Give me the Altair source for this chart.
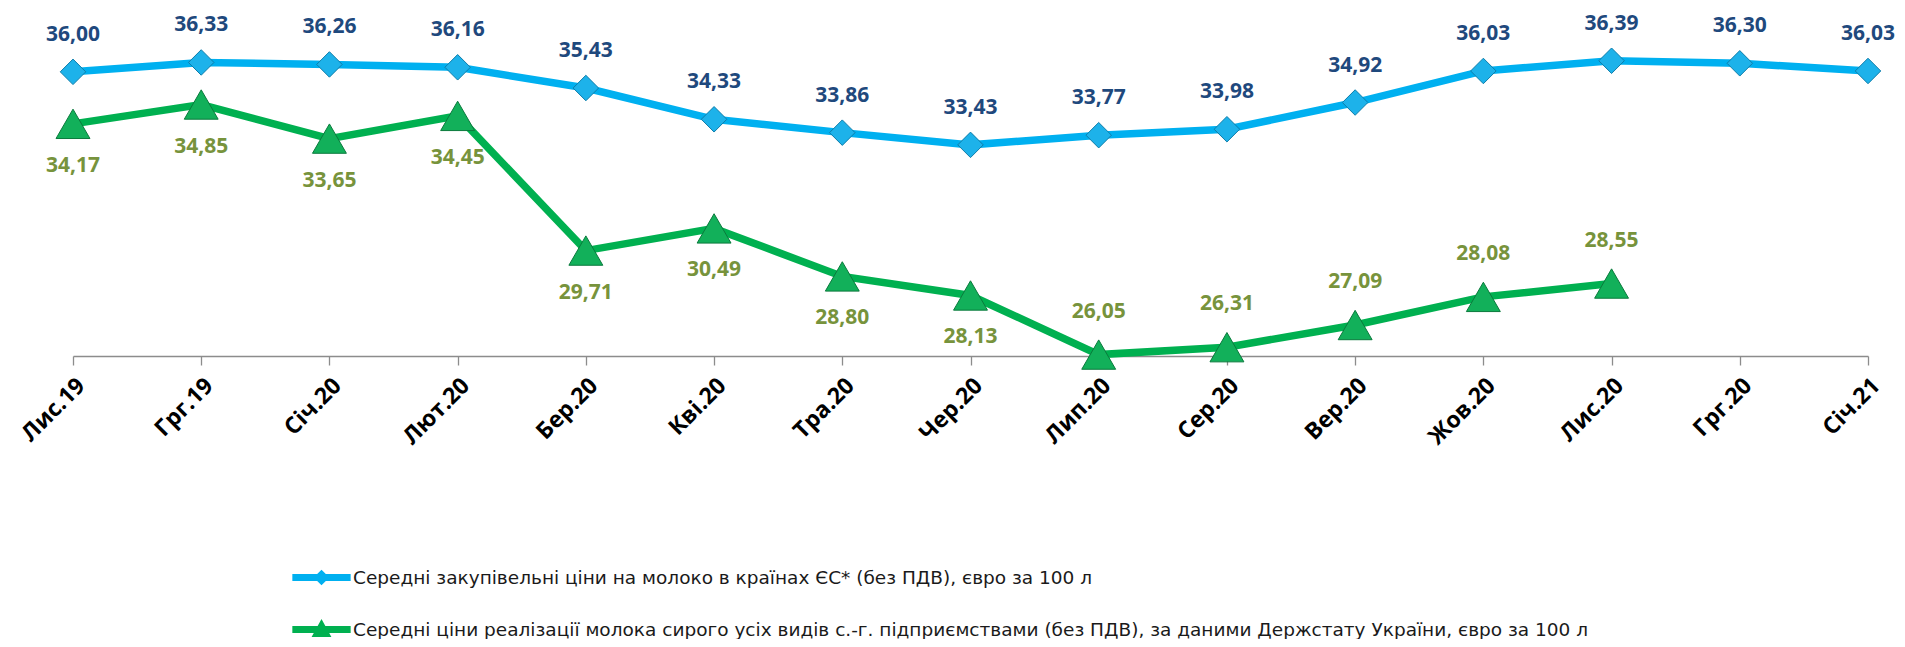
import altair as alt
import pandas as pd

months = ["Лис.19", "Грг.19", "Січ.20", "Лют.20", "Бер.20", "Кві.20", "Тра.20",
          "Чер.20", "Лип.20", "Сер.20", "Вер.20", "Жов.20", "Лис.20", "Грг.20", "Січ.21"]
eu_prices = [36.00, 36.33, 36.26, 36.16, 35.43, 34.33, 33.86, 33.43, 33.77, 33.98,
             34.92, 36.03, 36.39, 36.30, 36.03]
ua_prices = [34.17, 34.85, 33.65, 34.45, 29.71, 30.49, 28.80, 28.13, 26.05, 26.31,
             27.09, 28.08, 28.55, None, None]
ua_label_side = ["below", "below", "below", "below", "below", "below", "below",
                 "below", "above", "above", "above", "above", "above", None, None]

s_eu = "Середні закупівельні ціни на молоко в країнах ЄС* (без ПДВ), євро за 100 л"
s_ua = ("Середні ціни реалізації молока сирого усіх видів с.-г. підприємствами (без ПДВ), "
        "за даними Держстату України, євро за 100 л")
series = [s_eu, s_ua]
colors = ["#00B0F0", "#00B050"]

rows = []
for i, m in enumerate(months):
    rows.append({"month": m, "series": s_eu, "value": eu_prices[i], "side": "above"})
    if ua_prices[i] is not None:
        rows.append({"month": m, "series": s_ua, "value": ua_prices[i],
                     "side": ua_label_side[i]})
df = pd.DataFrame(rows)

FONT = "Open Sans"

x = alt.X("month:N", sort=months, title=None,
          scale=alt.Scale(type="point", padding=0),
          axis=alt.Axis(labelAngle=-45, labelFontSize=23, labelFontWeight="bold",
                        labelColor="#000000", labelFont=FONT, labelPadding=9,
                        domainColor="#8C8C8C", tickColor="#8C8C8C", tickSize=9,
                        domainWidth=1.3, tickWidth=1.3, grid=False, labelOverlap=False))
y = alt.Y("value:Q", title=None, axis=None,
          scale=alt.Scale(domain=[26, 38], nice=False, zero=False))

base = alt.Chart(df).encode(x=x, y=y)
eu = base.transform_filter(alt.datum.series == s_eu)
ua = base.transform_filter(alt.datum.series == s_ua)

eu_line = eu.mark_line(strokeWidth=7.5, color=colors[0])
ua_line = ua.mark_line(strokeWidth=7.5, color=colors[1])

eu_pts = eu.mark_point(shape="diamond", size=650, filled=True, fill="#1DB2EA",
                       stroke="#0D7DAA", strokeWidth=1, opacity=1)
ua_pts = ua.mark_point(shape="triangle-up", size=1150, filled=True, fill="#12B05A",
                       stroke="#0A7A3C", strokeWidth=1, opacity=1)

lab_expr = "replace(format(datum.value, '.2f'), '.', ',')"
text_style = dict(fontSize=21, fontWeight="bold", font=FONT)
eu_lab = eu.transform_calculate(lab=lab_expr).mark_text(
    dy=-37, color="#1F497D", **text_style).encode(text="lab:N")
ua_lab_below = ua.transform_filter(alt.datum.side == "below").transform_calculate(
    lab=lab_expr).mark_text(dy=42, color="#77933C", **text_style).encode(text="lab:N")
ua_lab_above = ua.transform_filter(alt.datum.side == "above").transform_calculate(
    lab=lab_expr).mark_text(dy=-43, color="#77933C", **text_style).encode(text="lab:N")

# legend symbols: line with marker in the middle (unit coords)
p_eu = ("M-1,-0.12 L1,-0.12 L1,0.12 L-1,0.12 Z "
        "M0,-0.27 L0.27,0 L0,0.27 L-0.27,0 Z")
p_ua = ("M-1,-0.12 L1,-0.12 L1,0.12 L-1,0.12 Z "
        "M0,-0.36 L0.34,0.26 L-0.34,0.26 Z")

leg = alt.Legend(title=None, orient="none", legendX=219, legendY=533,
                 direction="vertical", symbolSize=3400,
                 symbolOpacity=1, symbolStrokeWidth=0,
                 labelFontSize=18.5, labelFont="DejaVu Sans",
                 labelColor="#1A1A1A", labelLimit=1600,
                 labelOffset=2, rowPadding=13)

legend_layer = base.transform_filter("false").mark_point(filled=True, opacity=1).encode(
    color=alt.Color("series:N", scale=alt.Scale(domain=series, range=colors), legend=leg),
    shape=alt.Shape("series:N", scale=alt.Scale(domain=series, range=[p_eu, p_ua]),
                    legend=leg),
)

chart = alt.layer(eu_line, ua_line, eu_pts, ua_pts, eu_lab, ua_lab_below, ua_lab_above,
                  legend_layer).properties(
    width=1795, height=341,
    autosize=alt.AutoSizeParams(type="none"),
    padding={"left": 65, "top": 7, "right": 29, "bottom": 283},
).configure_view(stroke=None)

chart.save("out.html", embed_options={"renderer": "svg", "actions": False})
